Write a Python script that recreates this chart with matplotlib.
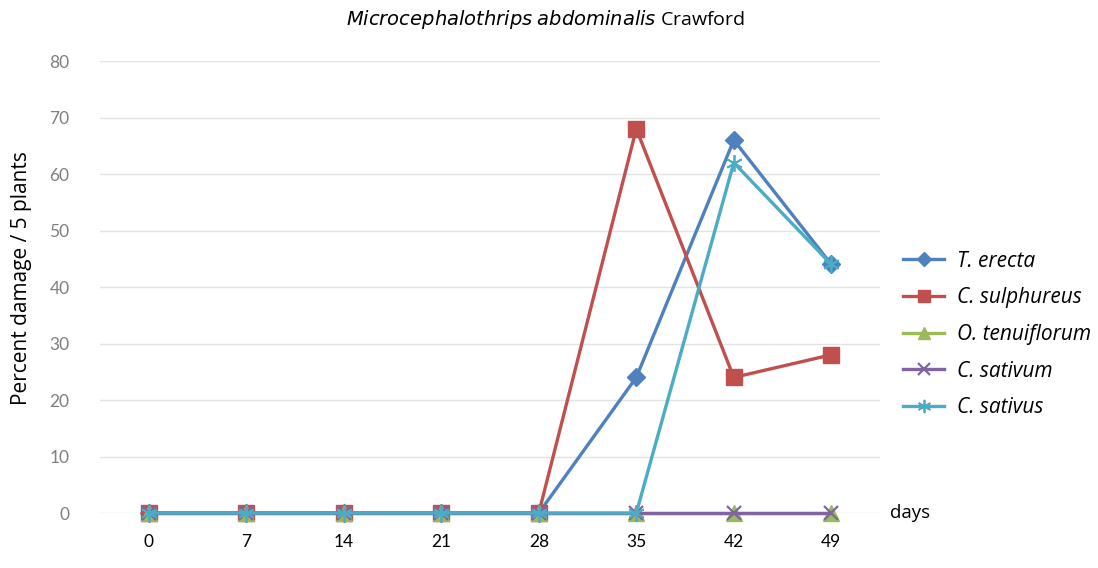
import numpy as np
import matplotlib.pyplot as plt

plt.rcParams['font.family'] = ['Lato', 'DejaVu Sans']

days = ["0", "7", "14", "21", "28", "35", "42", "49"]
t_erecta = [0, 0, 0, 0, 0, 24, 66, 44]
c_sulphureus = [0, 0, 0, 0, 0, 68, 24, 28]
o_tenuiflorum = [0, 0, 0, 0, 0, 0, 0, 0]
c_sativum = [0, 0, 0, 0, 0, 0, 0, 0]
c_sativus = [0, 0, 0, 0, 0, 0, 62, 44]

sans = ['Open Sans', 'DejaVu Sans']

fig = plt.figure(figsize=(10.98, 5.68), dpi=100)
ax = fig.add_axes([0.0911, 0.0968, 0.7104, 0.7958])

x = np.arange(len(days))
lw = 2.4
style = dict(lw=lw, zorder=3, clip_on=False)
ax.plot(x, t_erecta, color="#4F81BD", marker="D", ms=9, label="T. erecta", **style)
ax.plot(x, c_sulphureus, color="#C0504D", marker="s", ms=11, label="C. sulphureus", **style)
ax.plot(x, o_tenuiflorum, color="#9BBB59", marker="^", ms=11, label="O. tenuiflorum", **style)
ax.plot(x, c_sativum, color="#8064A2", marker="x", ms=10, mew=1.6, label="C. sativum", **style)
ax.plot(x, c_sativus, color="#4BACC6", marker=(6, 2, 0), ms=12, mew=1.3, label="C. sativus", **style)

ax.set_xlim(-0.5, len(days) - 0.5)
ax.set_ylim(0, 80)
ax.set_yticks(np.arange(0, 81, 10))
ax.set_xticks(x)
ax.set_xticklabels(days)
ax.grid(axis="y", color="#e3e3e3", lw=1)
ax.set_axisbelow(True)
for s in ax.spines.values():
    s.set_visible(False)
ax.tick_params(length=0, labelsize=12.5)
ax.tick_params(axis="x", pad=15, colors="black")
ax.tick_params(axis="y", pad=22, colors="#7f7f7f")

fig.text(0.02, 0.51, "Percent damage / 5 plants", rotation=90, ha="center", va="center",
         fontsize=15, family=sans)
ax.text(1.0125, 0, "days", transform=ax.transAxes, fontsize=13.5, va="center", ha="left",
        family=sans)
fig.text(0.497, 0.965, r"$\it{Microcephalothrips}$ $\it{abdominalis}$ Crawford",
         ha="center", va="center", fontsize=14, family=sans)

leg = ax.legend(loc="center left", bbox_to_anchor=(1.005, 0.395), frameon=False,
                prop={"style": "italic", "size": 15, "family": sans},
                handlelength=2.0, handletextpad=0.6, labelspacing=0.75, markerscale=0.8)

fig.savefig("out.png", dpi=100)
